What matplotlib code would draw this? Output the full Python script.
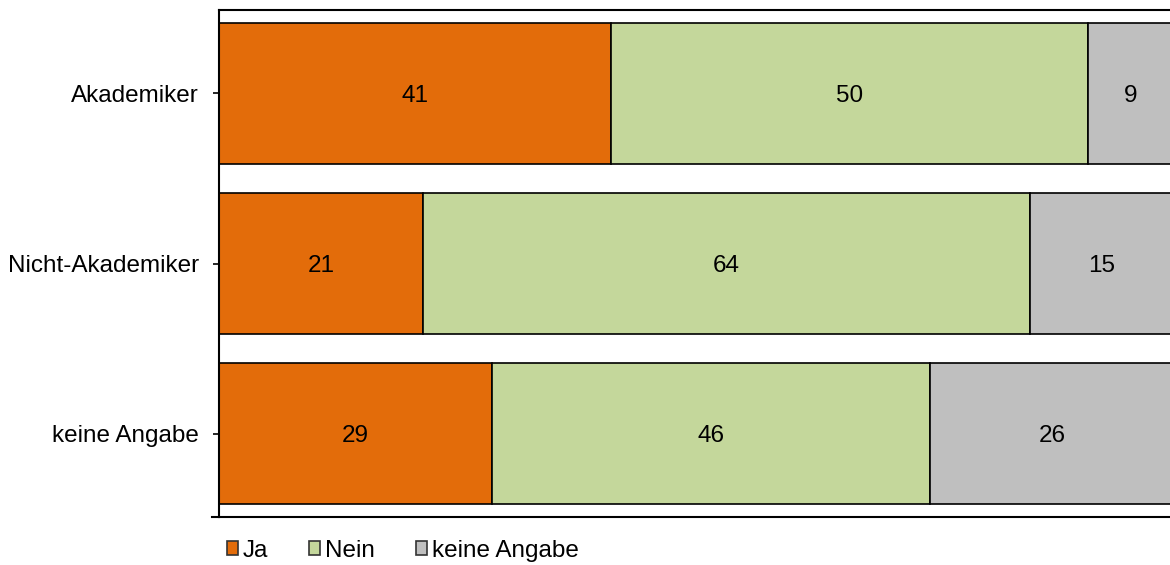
import numpy as np
import matplotlib
matplotlib.use('Agg')
import matplotlib.pyplot as plt
from matplotlib.patches import Patch
from matplotlib.lines import Line2D

plt.rcParams['font.family'] = ['Liberation Sans', 'DejaVu Sans']

groups = ['Akademiker', 'Nicht-Akademiker', 'keine Angabe']
series = ['Ja', 'Nein', 'keine Angabe']
ja = [41.0, 21.4, 28.6]
nein = [50.0, 63.5, 45.9]
keine = [9.0, 15.1, 25.5]
colors = ['#E36C0A', '#C4D79B', '#BFBFBF']

W, H = 1170, 565
fig = plt.figure(figsize=(W / 100, H / 100), dpi=100)
# axes runs a little past the right edge, like the original
ax = fig.add_axes([219 / W, 1 - 517 / H, 955 / W, 507 / H])

y = np.arange(len(groups))
left = np.zeros(len(groups))
for vals, col in zip([ja, nein, keine], colors):
    vals = np.array(vals)
    ax.barh(y, vals, left=left, height=0.83, color=col, edgecolor='black', linewidth=1.2)
    for yi, l, v in zip(y, left, vals):
        ax.text(l + v / 2, yi, str(int(v + 0.5)), ha='center', va='center_baseline', fontsize=17.5)
    left += vals

ax.set_xlim(0, 100)
ax.set_ylim(2.49, -0.49)
ax.set_yticks(y)
ax.set_yticklabels(groups, fontsize=17.5)
ax.tick_params(axis='y', length=4.5, width=1.2, pad=10)
ax.set_xticks([])
for s in ax.spines.values():
    s.set_linewidth(1.5)
ax.spines['right'].set_visible(False)

# small extension of the bottom axis line to the left
fig.add_artist(Line2D([212 / W, 219 / W], [1 - 517 / H] * 2, color='black', linewidth=1.5))

handles = [Patch(facecolor=c, edgecolor='#333333', linewidth=1.2) for c in colors]
fig.legend(handles, series, loc='center left', bbox_to_anchor=(227 / W, 1 - 551 / H),
           ncol=3, frameon=False, fontsize=17.5, handlelength=0.45, handleheight=0.5,
           handletextpad=0.2, columnspacing=1.7, borderpad=0, borderaxespad=0)

fig.savefig('out.png', dpi=100)
